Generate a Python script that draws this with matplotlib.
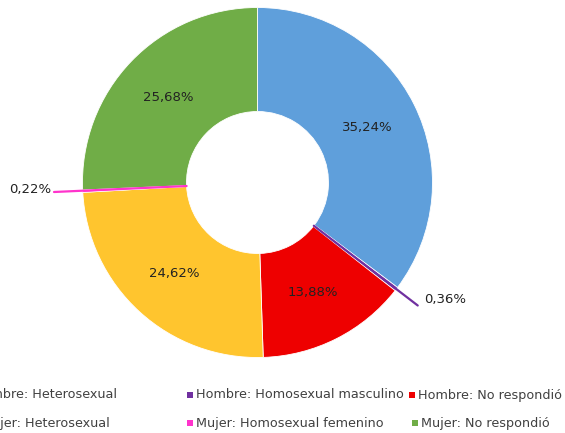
import numpy as np
import matplotlib
matplotlib.use("Agg")
import matplotlib.pyplot as plt
from matplotlib.patches import Rectangle

categories = ["Hombre: Heterosexual", "Hombre: Homosexual masculino", "Hombre: No respondió",
              "Mujer: Heterosexual", "Mujer: Homosexual femenino", "Mujer: No respondió"]
values = [35.24, 0.36, 13.88, 24.62, 0.22, 25.68]
labels = ["35,24%", "0,36%", "13,88%", "24,62%", "0,22%", "25,68%"]
colors = ["#5f9fdb", "#7030a0", "#ee0000", "#ffc52e", "#ff33cc", "#70ad47"]

W, H = 565, 433
fig = plt.figure(figsize=(W / 100, H / 100), dpi=100)
ax = fig.add_axes([0, 0, 1, 1])

cx, cy = 257.5, H - 182.5
R = 175
hole = 71

wedges, _ = ax.pie(values, colors=colors, startangle=90, counterclock=False,
                   radius=R, center=(cx, cy), frame=True,
                   wedgeprops=dict(width=R - hole, edgecolor="white", linewidth=0.6))
ax.set_xlim(0, W)
ax.set_ylim(0, H)
ax.set_aspect("equal")
ax.axis("off")

txt_color = "#222222"
r_lab = 123
for w, lab, v in zip(wedges, labels, values):
    ang = np.deg2rad((w.theta1 + w.theta2) / 2)
    if v > 5:
        ax.text(cx + r_lab * np.cos(ang), cy + r_lab * np.sin(ang), lab,
                ha="center", va="center", fontsize=9.5, color=txt_color)

# leader lines for small slices
w = wedges[1]
ang = np.deg2rad((w.theta1 + w.theta2) / 2)
x0, y0 = cx + hole * np.cos(ang), cy + hole * np.sin(ang)
x1, y1 = cx + 202 * np.cos(ang), cy + 202 * np.sin(ang)
ax.plot([x0, x1], [y0, y1], color=colors[1], lw=1.6, solid_capstyle="round")
ax.text(424, H - 300, labels[1], ha="left", va="center", fontsize=9.5, color=txt_color)

w = wedges[4]
ang = np.deg2rad((w.theta1 + w.theta2) / 2)
x0, y0 = cx + hole * np.cos(ang), cy + hole * np.sin(ang)
ax.plot([x0, 54], [y0, H - 192], color=colors[4], lw=1.6, solid_capstyle="round")
ax.text(51, H - 190, labels[4], ha="right", va="center", fontsize=9.5, color=txt_color)

# legend (manual, Excel-style; first column is cut off at the left edge as in the source)
leg_color = "#404040"
fs = 9.2
ms = 6
entries = [
    (categories[0], colors[0], None, 117, 395),
    (categories[1], colors[1], 187, None, 395),
    (categories[2], colors[2], 409, None, 395),
    (categories[3], colors[3], None, 110, 423),
    (categories[4], colors[4], 187, None, 423),
    (categories[5], colors[5], 412, None, 423),
]
for name, col, mx, tx_end, ypx in entries:
    y = H - ypx
    if mx is not None:
        ax.add_patch(Rectangle((mx, y - ms / 2), ms, ms, color=col, lw=0))
        ax.text(mx + ms + 3, y, name, ha="left", va="center", fontsize=fs, color=leg_color)
    else:
        ax.text(tx_end, y, name, ha="right", va="center", fontsize=fs, color=leg_color)

fig.savefig("out.png", dpi=100)
